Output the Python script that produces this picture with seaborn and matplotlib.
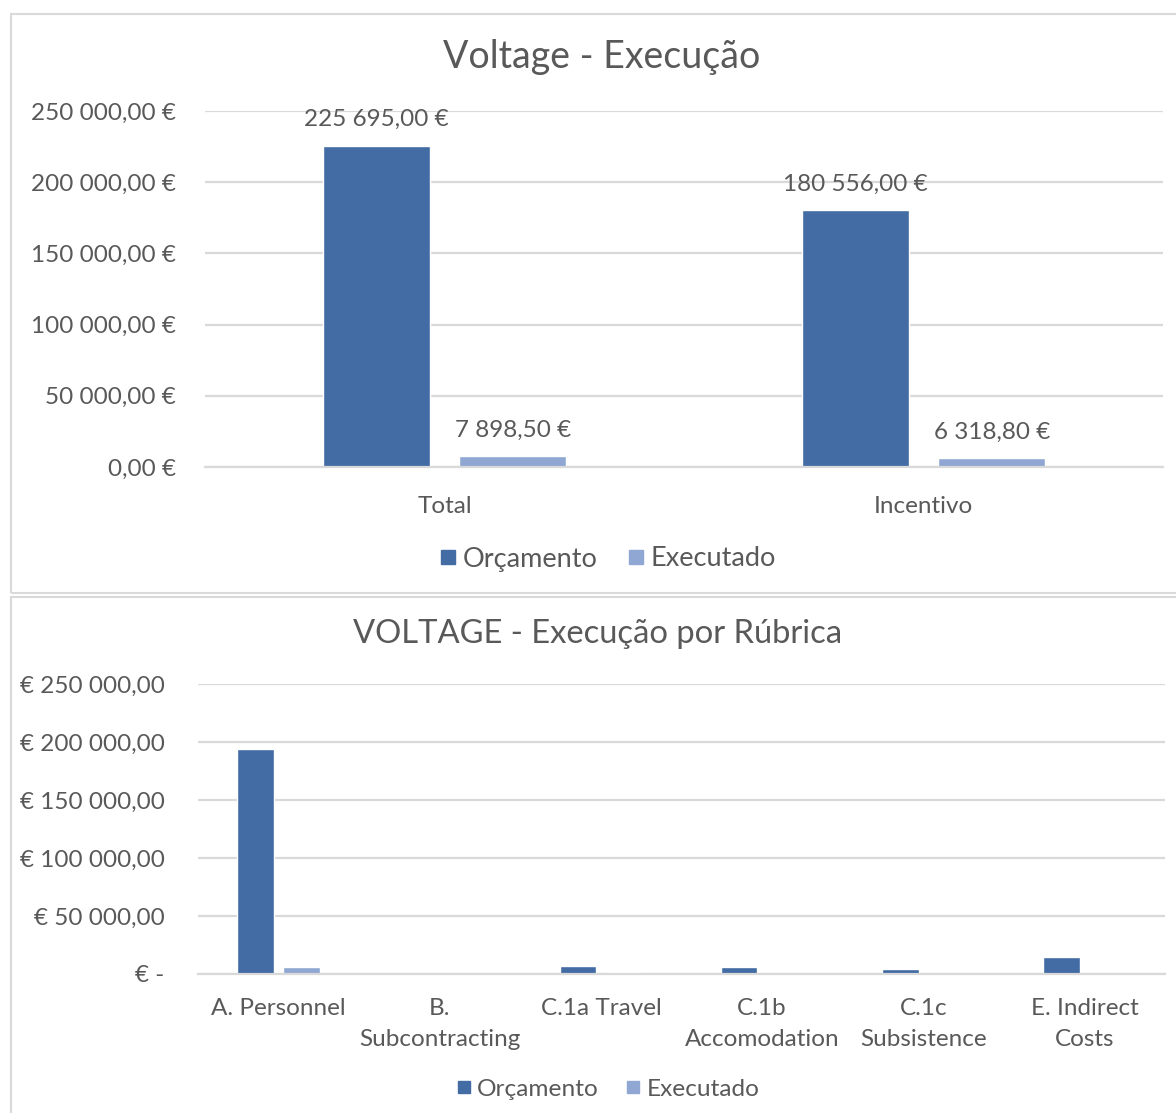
import matplotlib
matplotlib.use("Agg")
import matplotlib.pyplot as plt
from matplotlib.patches import Rectangle
from matplotlib.lines import Line2D
import seaborn as sns
import pandas as pd

# --- data -------------------------------------------------------------
series = ["Orçamento", "Executado"]

summary_cats = ["Total", "Incentivo"]
summary_orcamento = [225695.00, 180556.00]
summary_executado = [7898.50, 6318.80]

rubric_cats = ["A. Personnel", "B.\nSubcontracting", "C.1a Travel",
               "C.1b\nAccomodation", "C.1c\nSubsistence", "E. Indirect\nCosts"]
rubric_orcamento = [193600, 0, 7000, 6100, 4230, 14765]
rubric_executado = [6300, 0, 1598.50, 0, 0, 0]

yticks = [0, 50000, 100000, 150000, 200000, 250000]

# --- style ------------------------------------------------------------
sns.set_theme(style="white")
plt.rcParams["font.family"] = ["Lato", "DejaVu Sans"]
TXT = "#595959"
GRID = "#D9D9D9"
COLORS = ["#426CA3", "#8FA7D2"]
FS = 17.5


def num(v):
    s = f"{v:,.2f}"
    return s.replace(",", " ").replace(".", ",")


def eur_after(v):
    return f"{num(v)} €"


def eur_before(v):
    return "€ -" if v == 0 else f"€ {num(v)}"


def long_frame(cats, orc, exe):
    rows = []
    for c, o, e in zip(cats, orc, exe):
        rows.append({"cat": c, "serie": series[0], "val": o})
        rows.append({"cat": c, "serie": series[1], "val": e})
    return pd.DataFrame(rows)


def style_axis(ax, fmt, pad):
    ax.set_ylim(0, 250000)
    ax.set_yticks(yticks)
    ax.set_yticklabels([fmt(v) for v in yticks])
    ax.yaxis.grid(True, color=GRID, linewidth=1.6)
    ax.set_axisbelow(True)
    for s in ["left", "right", "top"]:
        ax.spines[s].set_visible(False)
    ax.spines["bottom"].set_color(GRID)
    ax.spines["bottom"].set_linewidth(1.6)
    ax.tick_params(axis="both", length=0, colors=TXT, labelsize=FS)
    ax.tick_params(axis="y", pad=pad)
    ax.set_xlabel("")
    ax.set_ylabel("")


def legend(fig, y, x, size, msize):
    handles = [Line2D([0], [0], marker="s", linestyle="", markersize=msize,
                      markerfacecolor=c, markeredgecolor=c) for c in COLORS]
    fig.legend(handles, series, loc="center", bbox_to_anchor=(x, y),
               ncol=2, frameon=False, fontsize=size, labelcolor=TXT,
               handletextpad=0.05, columnspacing=0.9, handlelength=1.0)


fig = plt.figure(figsize=(11.76, 11.13), dpi=100)

# panel frames
fig.patches.append(Rectangle((11 / 1176, 1 - 593 / 1113), 1.1, (593 - 14) / 1113,
                             transform=fig.transFigure, fill=False,
                             edgecolor=GRID, linewidth=1.5))
fig.patches.append(Rectangle((11 / 1176, -0.1), 1.1, 0.1 + (1113 - 597) / 1113,
                             transform=fig.transFigure, fill=False,
                             edgecolor=GRID, linewidth=1.5))

# --- top chart: budget vs executed ----------------------------------------
ax1 = fig.add_axes([205 / 1176, 1 - 467 / 1113, (1163 - 205) / 1176, (467 - 111) / 1113])
df1 = long_frame(summary_cats, summary_orcamento, summary_executado)
sns.barplot(data=df1, x="cat", y="val", hue="serie", palette=COLORS,
            width=0.57, gap=0.216, saturation=1, legend=False, ax=ax1)
style_axis(ax1, eur_after, 21)
ax1.set_xlim(-0.5, 1.5)
ax1.tick_params(axis="x", pad=21)
for cont, vals in zip(ax1.containers, [summary_orcamento, summary_executado]):
    ax1.bar_label(cont, labels=[eur_after(v) for v in vals], padding=11,
                  fontsize=FS, color=TXT)
fig.text(0.512, 1 - 57 / 1113, "Voltage - Execução", ha="center", va="center",
         fontsize=27, color=TXT)
legend(fig, 1 - 559 / 1113, 0.5145, 19.5, 9.5)

# --- bottom chart: by budget heading ---------------------------------------
ax2 = fig.add_axes([198 / 1176, 1 - 974 / 1113, (1165 - 198) / 1176, (974 - 684) / 1113])
df2 = long_frame(rubric_cats, rubric_orcamento, rubric_executado)
sns.barplot(data=df2, x="cat", y="val", hue="serie", palette=COLORS,
            width=0.57, gap=0.2, saturation=1, legend=False, ax=ax2)
style_axis(ax2, eur_before, 24)
ax2.set_xlim(-0.5, 5.5)
ax2.tick_params(axis="x", pad=17)
for lab in ax2.get_xticklabels():
    lab.set_linespacing(1.6)
    lab.set_verticalalignment("top")
fig.text(0.508, 1 - 634 / 1113, "VOLTAGE - Execução por Rúbrica", ha="center",
         va="center", fontsize=23.6, color=TXT)
legend(fig, 1 - 1089 / 1113, 0.515, 17.6, 8.5)

fig.savefig("out.png", dpi=100, facecolor="white")
